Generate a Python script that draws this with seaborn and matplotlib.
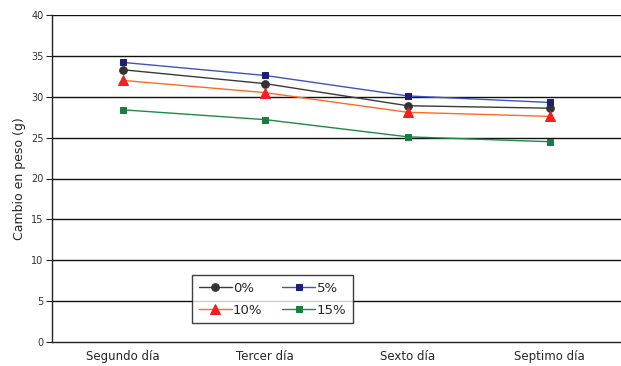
import matplotlib
matplotlib.use("Agg")
import matplotlib.pyplot as plt
import seaborn as sns
import pandas as pd

days = ["Segundo día", "Tercer día", "Sexto día", "Septimo día"]
series_names = ["0%", "5%", "10%", "15%"]
vals_0 = [33.3, 31.6, 28.9, 28.6]
vals_5 = [34.2, 32.6, 30.1, 29.3]
vals_10 = [32.0, 30.5, 28.1, 27.6]
vals_15 = [28.4, 27.2, 25.1, 24.5]

sns.set_style("white")
plt.rcParams['font.family'] = ['DejaVu Sans']

df = pd.DataFrame({
    "dia": days * 4,
    "pos": list(range(4)) * 4,
    "valor": vals_0 + vals_5 + vals_10 + vals_15,
    "serie": [s for s in series_names for _ in days],
})

# line colour, marker, marker colour, marker size
styles = {
    "0%": ("#3a3a3a", "o", "#333333", 5.5),
    "5%": ("#3b55c0", "s", "#1c1f78", 4.5),
    "10%": ("#ff6a20", "^", "#f02020", 6.5),
    "15%": ("#1e8a45", "s", "#178040", 4.5),
}

fig = plt.figure(figsize=(6.21, 3.66), dpi=100)
ax = fig.add_axes([52 / 621, 1 - 342 / 366, 1 - 52 / 621, 327 / 366])

for s in series_names:
    lc, mk, mc, ms = styles[s]
    sub = df[df["serie"] == s]
    sns.lineplot(data=sub, x="pos", y="valor", ax=ax, color=lc, marker=mk,
                 markersize=ms, markerfacecolor=mc, markeredgecolor=mc,
                 linewidth=1.0, label=s)

ax.set_xlim(-0.5, 3.5)
ax.set_ylim(0, 40)
ax.set_yticks(range(0, 41, 5))
for y in range(5, 41, 5):
    ax.axhline(y, color="#111111", linewidth=1.0, zorder=0)

ax.set_xticks(range(4))
ax.set_xticklabels(days, fontsize=8.5)
ax.set_xticks([0.5, 1.5, 2.5], minor=True)
ax.tick_params(axis="x", which="major", length=0, pad=6)
ax.tick_params(axis="x", which="minor", length=4, direction="out", color="#222222")
ax.tick_params(axis="y", length=4, direction="out", labelsize=7, color="#222222",
               labelcolor="#333333", left=True, pad=2)
ax.set_xlabel("")
ax.set_ylabel("Cambio en peso (g)", fontsize=9)

for side in ["top", "right"]:
    ax.spines[side].set_visible(False)
for side in ["left", "bottom"]:
    ax.spines[side].set_color("#222222")
    ax.spines[side].set_linewidth(1.0)

handles, labels = ax.get_legend_handles_labels()
order = [0, 2, 1, 3]
leg = ax.legend([handles[i] for i in order], [labels[i] for i in order],
                ncol=2, loc="upper left",
                bbox_to_anchor=((192 - 52) / 569, (342 - 275) / 327),
                frameon=True, fancybox=False, fontsize=9.5, handlelength=2.5,
                columnspacing=1.5, borderpad=0.5, labelspacing=0.7,
                handletextpad=0.1, borderaxespad=0)
leg.get_frame().set_edgecolor("#111111")
leg.get_frame().set_linewidth(1.0)

fig.savefig("out.png", dpi=100)
